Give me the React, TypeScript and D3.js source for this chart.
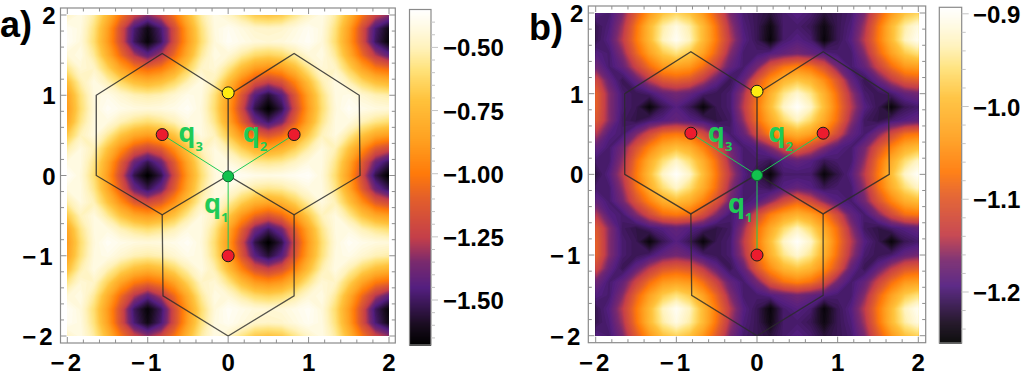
import * as d3 from 'd3'

const axisTicks = [-2, -1, 0, 1, 2]

// energy read off panel a), rows from y=2 down to y=-2, columns x=-2..2, step 1/6
const energyA = [
  [-.47,-.41,-.53,-.75,-1.01,-1.21,-1.32,-1.21,-1.01,-.75,-.53,-.41,-.47,-.56,-.67,-.7,-.67,-.56,-.47,-.41,-.53,-.75,-1.01,-1.21,-1.32],
  [-.38,-.42,-.58,-.85,-1.17,-1.47,-1.62,-1.47,-1.17,-.85,-.58,-.42,-.38,-.42,-.46,-.47,-.46,-.42,-.38,-.42,-.58,-.85,-1.17,-1.47,-1.62],
  [-.37,-.43,-.6,-.87,-1.17,-1.5,-1.65,-1.5,-1.17,-.87,-.6,-.43,-.37,-.4,-.43,-.44,-.43,-.4,-.37,-.43,-.6,-.87,-1.17,-1.5,-1.65],
  [-.44,-.41,-.54,-.79,-1.05,-1.27,-1.41,-1.27,-1.05,-.79,-.54,-.41,-.44,-.53,-.61,-.64,-.61,-.53,-.44,-.41,-.54,-.79,-1.05,-1.27,-1.41],
  [-.56,-.44,-.47,-.64,-.84,-.99,-1.05,-.99,-.84,-.64,-.47,-.44,-.56,-.73,-.87,-.92,-.87,-.73,-.56,-.44,-.47,-.64,-.84,-.99,-1.05],
  [-.72,-.51,-.41,-.5,-.62,-.72,-.77,-.72,-.62,-.5,-.41,-.51,-.72,-.96,-1.15,-1.23,-1.15,-.96,-.72,-.51,-.41,-.5,-.62,-.72,-.77],
  [-.84,-.58,-.42,-.4,-.45,-.5,-.52,-.5,-.45,-.4,-.42,-.58,-.84,-1.13,-1.43,-1.56,-1.43,-1.13,-.84,-.58,-.42,-.4,-.45,-.5,-.52],
  [-.87,-.6,-.43,-.37,-.4,-.42,-.43,-.42,-.4,-.37,-.43,-.6,-.87,-1.19,-1.53,-1.68,-1.53,-1.19,-.87,-.6,-.43,-.37,-.4,-.42,-.43],
  [-.82,-.56,-.42,-.42,-.5,-.56,-.6,-.56,-.5,-.42,-.42,-.56,-.82,-1.09,-1.36,-1.49,-1.36,-1.09,-.82,-.56,-.42,-.42,-.5,-.56,-.6],
  [-.67,-.49,-.42,-.54,-.7,-.82,-.87,-.82,-.7,-.54,-.42,-.49,-.67,-.89,-1.05,-1.13,-1.05,-.89,-.67,-.49,-.42,-.54,-.7,-.82,-.87],
  [-.52,-.42,-.5,-.7,-.92,-1.11,-1.19,-1.11,-.92,-.7,-.5,-.42,-.52,-.65,-.77,-.82,-.77,-.65,-.52,-.42,-.5,-.7,-.92,-1.11,-1.19],
  [-.42,-.42,-.56,-.82,-1.11,-1.38,-1.52,-1.38,-1.11,-.82,-.56,-.42,-.42,-.48,-.54,-.56,-.54,-.48,-.42,-.42,-.56,-.82,-1.11,-1.38,-1.52],
  [-.36,-.43,-.6,-.87,-1.19,-1.53,-1.68,-1.53,-1.19,-.87,-.6,-.43,-.36,-.38,-.4,-.41,-.4,-.38,-.36,-.43,-.6,-.87,-1.19,-1.53,-1.68],
  [-.42,-.42,-.56,-.82,-1.11,-1.38,-1.52,-1.38,-1.11,-.82,-.56,-.42,-.42,-.48,-.54,-.56,-.54,-.48,-.42,-.42,-.56,-.82,-1.11,-1.38,-1.52],
  [-.52,-.42,-.5,-.7,-.92,-1.11,-1.19,-1.11,-.92,-.7,-.5,-.42,-.52,-.65,-.77,-.82,-.77,-.65,-.52,-.42,-.5,-.7,-.92,-1.11,-1.19],
  [-.67,-.49,-.42,-.54,-.7,-.82,-.87,-.82,-.7,-.54,-.42,-.49,-.67,-.89,-1.05,-1.13,-1.05,-.89,-.67,-.49,-.42,-.54,-.7,-.82,-.87],
  [-.82,-.56,-.42,-.42,-.5,-.56,-.6,-.56,-.5,-.42,-.42,-.56,-.82,-1.09,-1.36,-1.49,-1.36,-1.09,-.82,-.56,-.42,-.42,-.5,-.56,-.6],
  [-.87,-.6,-.43,-.37,-.4,-.42,-.43,-.42,-.4,-.37,-.43,-.6,-.87,-1.19,-1.53,-1.68,-1.53,-1.19,-.87,-.6,-.43,-.37,-.4,-.42,-.43],
  [-.84,-.58,-.42,-.4,-.45,-.5,-.52,-.5,-.45,-.4,-.42,-.58,-.84,-1.13,-1.43,-1.56,-1.43,-1.13,-.84,-.58,-.42,-.4,-.45,-.5,-.52],
  [-.72,-.51,-.41,-.5,-.62,-.72,-.77,-.72,-.62,-.5,-.41,-.51,-.72,-.96,-1.15,-1.23,-1.15,-.96,-.72,-.51,-.41,-.5,-.62,-.72,-.77],
  [-.56,-.44,-.47,-.64,-.84,-.99,-1.05,-.99,-.84,-.64,-.47,-.44,-.56,-.73,-.87,-.92,-.87,-.73,-.56,-.44,-.47,-.64,-.84,-.99,-1.05],
  [-.44,-.41,-.54,-.79,-1.05,-1.27,-1.41,-1.27,-1.05,-.79,-.54,-.41,-.44,-.53,-.61,-.64,-.61,-.53,-.44,-.41,-.54,-.79,-1.05,-1.27,-1.41],
  [-.37,-.43,-.6,-.87,-1.17,-1.5,-1.65,-1.5,-1.17,-.87,-.6,-.43,-.37,-.4,-.43,-.44,-.43,-.4,-.37,-.43,-.6,-.87,-1.17,-1.5,-1.65],
  [-.38,-.42,-.58,-.85,-1.17,-1.47,-1.62,-1.47,-1.17,-.85,-.58,-.42,-.38,-.42,-.46,-.47,-.46,-.42,-.38,-.42,-.58,-.85,-1.17,-1.47,-1.62],
  [-.47,-.41,-.53,-.75,-1.01,-1.21,-1.32,-1.21,-1.01,-.75,-.53,-.41,-.47,-.56,-.67,-.7,-.67,-.56,-.47,-.41,-.53,-.75,-1.01,-1.21,-1.32],
]

// same grid for panel b)
const energyB = [
  [-1.19,-1.2,-1.165,-1.1,-1.04,-.99,-.97,-.99,-1.04,-1.1,-1.165,-1.2,-1.21,-1.22,-1.2,-1.19,-1.2,-1.22,-1.21,-1.2,-1.165,-1.1,-1.04,-.99,-.97],
  [-1.21,-1.195,-1.15,-1.075,-1,-.94,-.91,-.94,-1,-1.075,-1.15,-1.195,-1.21,-1.24,-1.2,-1.2,-1.21,-1.24,-1.21,-1.195,-1.15,-1.075,-1,-.94,-.91],
  [-1.21,-1.19,-1.14,-1.07,-1,-.93,-.9,-.93,-1,-1.07,-1.14,-1.19,-1.21,-1.245,-1.2,-1.19,-1.2,-1.245,-1.21,-1.19,-1.14,-1.07,-1,-.93,-.9],
  [-1.19,-1.2,-1.16,-1.09,-1.03,-.98,-.955,-.98,-1.03,-1.09,-1.16,-1.2,-1.2,-1.19,-1.18,-1.17,-1.18,-1.19,-1.2,-1.2,-1.16,-1.09,-1.03,-.98,-.955],
  [-1.17,-1.2,-1.18,-1.13,-1.08,-1.04,-1.03,-1.04,-1.08,-1.13,-1.18,-1.2,-1.17,-1.11,-1.075,-1.06,-1.075,-1.11,-1.17,-1.2,-1.18,-1.13,-1.08,-1.04,-1.03],
  [-1.12,-1.18,-1.21,-1.18,-1.14,-1.105,-1.095,-1.105,-1.14,-1.18,-1.21,-1.18,-1.105,-1.05,-1.005,-.985,-1.005,-1.05,-1.105,-1.18,-1.21,-1.18,-1.14,-1.105,-1.095],
  [-1.09,-1.16,-1.2,-1.21,-1.2,-1.18,-1.17,-1.18,-1.2,-1.21,-1.2,-1.15,-1.08,-1.01,-.95,-.92,-.95,-1.01,-1.08,-1.15,-1.2,-1.21,-1.2,-1.18,-1.17],
  [-1.09,-1.16,-1.2,-1.21,-1.245,-1.21,-1.19,-1.21,-1.245,-1.21,-1.2,-1.14,-1.07,-.995,-.925,-.895,-.925,-.995,-1.07,-1.14,-1.19,-1.21,-1.245,-1.21,-1.2],
  [-1.1,-1.16,-1.205,-1.215,-1.2,-1.19,-1.18,-1.19,-1.2,-1.215,-1.205,-1.155,-1.08,-1.02,-.965,-.93,-.965,-1.02,-1.08,-1.155,-1.205,-1.215,-1.2,-1.19,-1.18],
  [-1.14,-1.19,-1.2,-1.165,-1.12,-1.08,-1.07,-1.08,-1.12,-1.165,-1.2,-1.18,-1.12,-1.065,-1.03,-1.01,-1.03,-1.065,-1.12,-1.18,-1.2,-1.165,-1.12,-1.08,-1.07],
  [-1.18,-1.2,-1.17,-1.11,-1.06,-1.015,-.995,-1.015,-1.06,-1.11,-1.17,-1.2,-1.19,-1.16,-1.12,-1.09,-1.12,-1.16,-1.19,-1.2,-1.17,-1.11,-1.06,-1.015,-.995],
  [-1.2,-1.2,-1.155,-1.08,-1.015,-.96,-.925,-.96,-1.015,-1.08,-1.155,-1.2,-1.2,-1.21,-1.19,-1.18,-1.19,-1.21,-1.2,-1.2,-1.155,-1.08,-1.015,-.96,-.925],
  [-1.215,-1.19,-1.14,-1.07,-.995,-.925,-.895,-.925,-.995,-1.07,-1.14,-1.19,-1.215,-1.245,-1.2,-1.2,-1.2,-1.245,-1.215,-1.19,-1.14,-1.07,-.995,-.925,-.895],
  [-1.2,-1.2,-1.155,-1.08,-1.015,-.96,-.925,-.96,-1.015,-1.08,-1.155,-1.2,-1.2,-1.21,-1.19,-1.18,-1.19,-1.21,-1.2,-1.2,-1.155,-1.08,-1.015,-.96,-.925],
  [-1.18,-1.2,-1.17,-1.11,-1.06,-1.015,-.995,-1.015,-1.06,-1.11,-1.17,-1.2,-1.19,-1.16,-1.12,-1.09,-1.12,-1.16,-1.19,-1.2,-1.17,-1.11,-1.06,-1.015,-.995],
  [-1.14,-1.19,-1.2,-1.165,-1.12,-1.08,-1.07,-1.08,-1.12,-1.165,-1.2,-1.18,-1.12,-1.065,-1.03,-1.01,-1.03,-1.065,-1.12,-1.18,-1.2,-1.165,-1.12,-1.08,-1.07],
  [-1.1,-1.16,-1.205,-1.215,-1.2,-1.19,-1.18,-1.19,-1.2,-1.215,-1.205,-1.155,-1.08,-1.02,-.965,-.93,-.965,-1.02,-1.08,-1.155,-1.205,-1.215,-1.2,-1.19,-1.18],
  [-1.09,-1.16,-1.2,-1.21,-1.245,-1.21,-1.19,-1.21,-1.245,-1.21,-1.2,-1.14,-1.07,-.995,-.925,-.895,-.925,-.995,-1.07,-1.14,-1.19,-1.21,-1.245,-1.21,-1.2],
  [-1.09,-1.16,-1.2,-1.21,-1.2,-1.18,-1.17,-1.18,-1.2,-1.21,-1.2,-1.15,-1.08,-1.01,-.95,-.92,-.95,-1.01,-1.08,-1.15,-1.2,-1.21,-1.2,-1.18,-1.17],
  [-1.12,-1.18,-1.21,-1.18,-1.14,-1.105,-1.095,-1.105,-1.14,-1.18,-1.21,-1.18,-1.105,-1.05,-1.005,-.985,-1.005,-1.05,-1.105,-1.18,-1.21,-1.18,-1.14,-1.105,-1.095],
  [-1.17,-1.2,-1.18,-1.13,-1.08,-1.04,-1.03,-1.04,-1.08,-1.13,-1.18,-1.2,-1.17,-1.11,-1.075,-1.06,-1.075,-1.11,-1.17,-1.2,-1.18,-1.13,-1.08,-1.04,-1.03],
  [-1.19,-1.2,-1.16,-1.09,-1.03,-.98,-.955,-.98,-1.03,-1.09,-1.16,-1.2,-1.2,-1.19,-1.18,-1.17,-1.18,-1.19,-1.2,-1.2,-1.16,-1.09,-1.03,-.98,-.955],
  [-1.21,-1.19,-1.14,-1.07,-1,-.93,-.9,-.93,-1,-1.07,-1.14,-1.19,-1.21,-1.245,-1.2,-1.19,-1.2,-1.245,-1.21,-1.19,-1.14,-1.07,-1,-.93,-.9],
  [-1.21,-1.195,-1.15,-1.075,-1,-.94,-.91,-.94,-1,-1.075,-1.15,-1.195,-1.21,-1.24,-1.2,-1.2,-1.21,-1.24,-1.21,-1.195,-1.15,-1.075,-1,-.94,-.91],
  [-1.19,-1.2,-1.165,-1.1,-1.04,-.99,-.97,-.99,-1.04,-1.1,-1.165,-1.2,-1.21,-1.22,-1.2,-1.19,-1.2,-1.22,-1.21,-1.2,-1.165,-1.1,-1.04,-.99,-.97],
]

// colour ramp, fraction along the colour bar
const rampStops = [0, .06, .17, .247, .32, .44, .51, .61, .73, .82, .885, .955, 1]
const rampColors = ['#000000', '#1a0d20', '#541f80', '#7a2a6e', '#c43f4a', '#e4602a', '#ff7a0a', '#ffa020', '#ffc23c', '#ffe27a', '#fff2bb', '#fffbe8', '#ffffff']

// hexagon outlines (x, y in plot units)
const hexUpper = [[0, 1], [-.82, 1.52], [-1.64, 1], [-1.64, 0], [-.82, -.49], [0, 0], [.82, -.49], [1.64, 0], [1.63, 1], [.82, 1.52], [0, 1], [0, 0]]
const hexLower = [[-.82, -.49], [-.81, -1.5], [0, -2], [.82, -1.5], [.82, -.49]]

const bonds = [[-.82, .51], [.82, .51], [0, -1]]
const siteRed = [[-.82, .51], [.82, .51], [0, -1]]
const siteYellow = [0, 1.03]
const siteGreen = [0, -.01]

const panelA = {
  name: 'a',
  title: 'a)',
  titleX: 0,
  titleY: 37,
  values: energyA,
  frame: [60.5, 8, 395.3, 343],
  plot: [67.3, 15, 389, 336],
  bar: [409.5, 9.5, 431, 345],
  domain: [-1.678, -.35],
  barMajor: [-.5, -.75, -1, -1.25, -1.5],
  barMinor: [-.4, -.45, -.55, -.6, -.65, -.7, -.8, -.85, -.9, -.95, -1.05, -1.1, -1.15, -1.2, -1.3, -1.35, -1.4, -1.45, -1.55, -1.6, -1.65],
  barFormat: '.2f',
  labelX: 443,
  qLabels: [['3', -.62, .42], ['2', .18, .42], ['1', -.3, -.47]],
}

const panelB = {
  name: 'b',
  title: 'b)',
  titleX: 529,
  titleY: 40,
  values: energyB,
  frame: [588.3, 6, 925.7, 342.7],
  plot: [595.7, 13, 918.3, 335.7],
  bar: [939.3, 7.3, 961.7, 343],
  domain: [-1.255, -.893],
  barMajor: [-.9, -1, -1.1, -1.2],
  barMinor: [-.92, -.94, -.96, -.98, -1.02, -1.04, -1.06, -1.08, -1.12, -1.14, -1.16, -1.18, -1.22, -1.24],
  barFormat: '.1f',
  labelX: 973,
  qLabels: [['3', -.61, .4], ['2', .14, .4], ['1', -.36, -.48]],
}

const GREEN = '#1fcb57'
const FRAME = '#8a8a8a'
const TICK = '#8f8f8f'
const FONT = '"Liberation Sans", Arial, sans-serif'

function Panel({ p }: { p: typeof panelA }) {
  const [fx0, fy0, fx1, fy1] = p.frame
  const [px0, py0, px1, py1] = p.plot
  const [bx0, by0, bx1, by1] = p.bar

  const x = d3.scaleLinear().domain([-2, 2]).range([px0, px1])
  const y = d3.scaleLinear().domain([-2, 2]).range([py1, py0])
  const [lo, hi] = p.domain
  const color = d3.scaleLinear<string>()
    .domain(rampStops.map(f => lo + f * (hi - lo)))
    .range(rampColors)
    .interpolate(d3.interpolateRgb)
  const barY = d3.scaleLinear().domain(p.domain).range([by1, by0])

  // filled iso-bands from the value grid
  const ny = p.values.length
  const nx = p.values[0].length
  const gridX = d3.scaleLinear().domain([.5, nx - .5]).range([px0, px1])
  const gridY = d3.scaleLinear().domain([.5, ny - .5]).range([py0, py1])
  const thresholds = d3.range(90).map(i => lo + (hi - lo) * i / 90)
  const bands = d3.contours().size([nx, ny]).thresholds(thresholds)(p.values.flat())
  const path = d3.geoPath(d3.geoTransform({
    point(a: number, b: number) { (this as any).stream.point(gridX(a), gridY(b)) },
  }))

  const line = d3.line<number[]>().x(d => x(d[0])).y(d => y(d[1]))
  const barBands = d3.range(by0, by1)
  const fmt = d3.format(p.barFormat)
  const minor = x.ticks(20)
  const clip = `clip-${p.name}`

  return (
    <g fontFamily={FONT}>
      <defs>
        <clipPath id={clip}><rect x={px0} y={py0} width={px1 - px0} height={py1 - py0} /></clipPath>
      </defs>

      <text x={p.titleX} y={p.titleY} fontSize={36} fontWeight="bold">{p.title}</text>

      <g clipPath={`url(#${clip})`}>
        <rect x={px0} y={py0} width={px1 - px0} height={py1 - py0} fill={color(lo)} />
        {bands.map((b, i) => <path key={i} d={path(b as any) ?? ''} fill={color(b.value)} />)}
      </g>

      <rect x={fx0} y={fy0} width={fx1 - fx0} height={fy1 - fy0} fill="none" stroke={FRAME} strokeWidth={1.2} />
      {minor.map(t => {
        const len = axisTicks.includes(t) ? 6 : 3.5
        return (
          <g key={t} stroke={TICK} strokeWidth={1}>
            <line x1={x(t)} x2={x(t)} y1={fy1} y2={fy1 - len} />
            <line x1={x(t)} x2={x(t)} y1={fy0} y2={fy0 + len} />
            <line x1={fx0} x2={fx0 + len} y1={y(t)} y2={y(t)} />
            <line x1={fx1} x2={fx1 - len} y1={y(t)} y2={y(t)} />
          </g>
        )
      })}
      {axisTicks.map(t => (
        <g key={t} fontSize={24} fontWeight="bold" fill="#000">
          <text x={x(t)} y={371} textAnchor="middle" letterSpacing={t < 0 ? 3 : 0}>{t < 0 ? `\u2212${-t}` : t}</text>
          <text x={fx0 - 5} y={y(t) + 9} textAnchor="end" letterSpacing={t < 0 ? 3 : 0}>{t < 0 ? `\u2212${-t}` : t}</text>
        </g>
      ))}

      <path d={line(hexUpper as number[][]) ?? ''} fill="none" stroke="#2a2a2a" strokeWidth={1.3} strokeOpacity={.85} />
      <path d={line(hexLower as number[][]) ?? ''} fill="none" stroke="#2a2a2a" strokeWidth={1.3} strokeOpacity={.8} />

      {bonds.map((b, i) => (
        <line key={i} x1={x(siteGreen[0])} y1={y(siteGreen[1])} x2={x(b[0])} y2={y(b[1])} stroke={GREEN} strokeWidth={1} />
      ))}
      {siteRed.map((s, i) => (
        <circle key={i} cx={x(s[0])} cy={y(s[1])} r={6} fill="#ec1c2e" stroke="#1a1a1a" strokeWidth={1} />
      ))}
      <circle cx={x(siteYellow[0])} cy={y(siteYellow[1])} r={6} fill="#ffec12" stroke="#1a1a1a" strokeWidth={1} />
      <circle cx={x(siteGreen[0])} cy={y(siteGreen[1])} r={5.5} fill="#12c24e" stroke="#0c6a2e" strokeWidth={1} />

      {p.qLabels.map(([sub, qx, qy]) => (
        <text key={sub as string} x={x(qx as number)} y={y(qy as number)} fill={GREEN} fontSize={27} fontWeight="bold"
          fontFamily='"Open Sans", sans-serif'>
          q<tspan fontSize={13} dy={9}>{sub}</tspan>
        </text>
      ))}

      {barBands.map(b => (
        <rect key={b} x={bx0} y={b} width={bx1 - bx0} height={1.5} fill={color(barY.invert(b + .5))} />
      ))}
      <rect x={bx0} y={by0} width={bx1 - bx0} height={by1 - by0} fill="none" stroke={FRAME} strokeWidth={1.2} />
      {p.barMinor.map(t => (
        <line key={t} x1={bx1} x2={bx1 + 4} y1={barY(t)} y2={barY(t)} stroke="#c4c4c4" strokeWidth={1} />
      ))}
      {p.barMajor.map(t => (
        <g key={t}>
          <line x1={bx1} x2={bx1 + 7} y1={barY(t)} y2={barY(t)} stroke="#c4c4c4" strokeWidth={1} />
          <text x={p.labelX} y={barY(t) + 9} fontSize={24} fontWeight="bold" fill="#000">{`\u2212${fmt(-t)}`}</text>
        </g>
      ))}
    </g>
  )
}

export default function App() {
  return (
    <svg width={1027} height={376} style={{ position: 'absolute', left: 0, top: 0 }}>
      <rect width={1027} height={376} fill="#fff" />
      <Panel p={panelA} />
      <Panel p={panelB} />
    </svg>
  )
}
